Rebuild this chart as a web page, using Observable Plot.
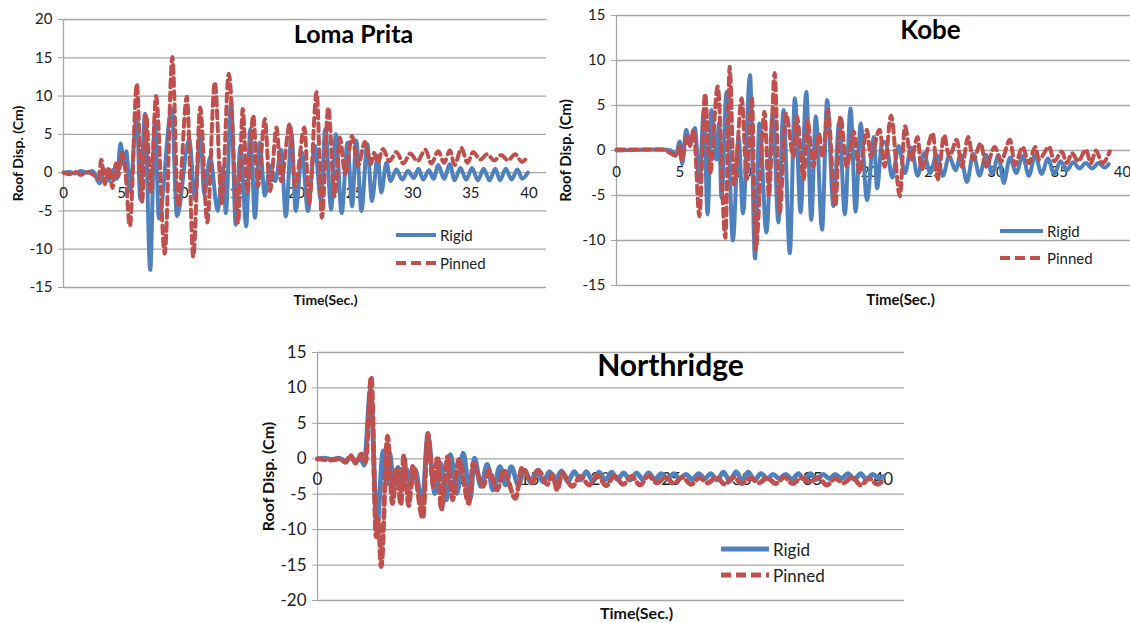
<!DOCTYPE html>
<html><head><meta charset="utf-8">
<script src="https://cdn.jsdelivr.net/npm/d3@7"></script>
<script src="https://cdn.jsdelivr.net/npm/@observablehq/plot@0.6"></script>
<style>
body{margin:0;background:#fff;font-family:Lato,sans-serif;}
#wrap{position:relative;width:1130px;height:623px;overflow:hidden;background:#fff;}
.panel{position:absolute;}
.leg{position:absolute;display:flex;align-items:center;color:#222;font-family:Lato,sans-serif;white-space:nowrap;}
.leg svg{display:block;}
</style></head><body><div id="wrap"></div>
<script>
const BLUE = "#4F81BD", RED = "#C0504D", GRID = "#a6a6a6";

// ---- Data (time in s, roof displacement in cm) ----
const seriesNames = ["Rigid", "Pinned"];
const xTicks = [0, 5, 10, 15, 20, 25, 30, 35, 40];
const lomaYTicks = [-15, -10, -5, 0, 5, 10, 15, 20];
const kobeYTicks = [-15, -10, -5, 0, 5, 10, 15];
const northYTicks = [-20, -15, -10, -5, 0, 5, 10, 15];

const lomaRigid = [[0,0],[0.5,0.1],[1,-0.1],[1.5,0.2],[2,0],[2.5,0.2],[3.1,-1.4],[3.5,0.4],[3.9,-1.0],[4.3,0.4],[4.6,-0.8],[4.9,3.8],[5.2,1.0],[5.4,2.8],[5.7,-2.5],[6.3,7.5],[6.6,-3.5],[7.0,7.7],[7.45,-12.7],[7.85,6.8],[8.2,-6.0],[9.3,8.3],[9.75,-5.7],[10.8,4.4],[11.3,-3.5],[11.75,5.3],[12.1,-2.8],[12.6,2.0],[13.25,-5.0],[13.7,0.7],[13.95,-5.3],[14.4,9.2],[14.8,-6.8],[15.2,3.5],[15.7,-7.0],[16.05,5.7],[16.45,-5.9],[16.85,3.9],[17.3,-3.0],[17.75,0.9],[18.2,-1.1],[18.7,3.0],[19.1,-5.7],[19.6,5.0],[19.95,-5.0],[20.5,2.6],[21.0,-5.0],[21.6,3.5],[22.1,-3.5],[22.5,5.7],[23.0,-4.8],[23.4,5.0],[23.9,-5.3],[24.4,3.9],[24.8,-4.4],[25.15,4.2],[25.6,-5.0],[26.1,3.7],[26.5,-3.7],[27.0,2.2],[27.3,-2.6],[27.75,1.3],[28.1,-1.1],[28.6,0.4],[29.1,-0.9],[29.6,0.2],[30.1,-0.7],[30.5,0.5],[30.9,-0.9],[31.4,0.3],[31.8,-0.8],[32.2,1.0],[32.7,-0.8],[33.2,1.1],[33.6,-1.0],[34.1,0.6],[34.6,-0.9],[35.1,0.6],[35.6,-1.0],[36.1,0.5],[36.6,-1.0],[37.1,0.5],[37.5,-1.0],[38.0,0.5],[38.5,-0.9],[39.0,0.4],[39.4,-0.8],[39.9,0]];
const lomaPinned = [[0,0],[0.5,-0.2],[1,0.1],[1.5,-0.3],[2,0.1],[2.5,-0.2],[3.0,-0.8],[3.25,1.7],[3.55,-1.5],[3.9,0.7],[4.2,-2.0],[4.5,1.2],[4.7,-0.5],[5.0,2.6],[5.3,0.5],[5.7,-7.0],[6.3,11.6],[6.75,-3.8],[7.1,7.6],[7.5,-2.5],[7.95,10.0],[8.7,-10.6],[9.35,15.1],[9.85,-4.4],[10.6,9.9],[11.15,-11.0],[11.75,8.5],[12.35,-6.5],[13.0,11.8],[13.6,-4.0],[14.2,12.9],[15.0,-6.6],[15.4,8.3],[15.8,-2.6],[16.3,7.5],[16.7,-1.8],[17.3,7.0],[17.75,-2.4],[18.3,5.9],[18.7,-1.1],[19.45,6.4],[19.9,-1.8],[20.7,5.9],[21.1,-4.0],[21.75,10.5],[22.2,-5.9],[22.75,8.5],[23.3,-3.1],[23.75,4.6],[24.2,-0.2],[24.8,4.8],[25.3,0.9],[25.9,4.0],[26.4,1.1],[26.7,2.6],[27.0,1.3],[27.45,3.1],[28.0,1.5],[28.6,2.7],[29.2,1.2],[29.8,2.5],[30.4,1.5],[31.1,3.0],[31.6,1.2],[32.2,2.8],[32.7,1.3],[33.2,2.9],[33.6,1.0],[34.2,3.2],[34.7,1.3],[35.2,2.7],[35.8,1.7],[36.4,2.4],[37.0,1.6],[37.6,2.3],[38.2,1.6],[38.8,2.4],[39.4,1.4],[39.8,2.0]];

const kobeRigid = [[0,0],[3.5,0.1],[4.3,0],[4.7,-0.5],[5.0,1.0],[5.2,-1.5],[5.5,2.3],[5.8,0.8],[6.2,2.5],[6.55,-3.5],[6.9,4.5],[7.2,-7.1],[7.5,4.5],[7.9,-1.0],[8.1,3.0],[8.3,-5.3],[8.7,6.5],[9.2,-10.0],[9.65,1.5],[10.0,-7.0],[10.55,8.4],[10.95,-12.0],[11.3,3.0],[11.85,-9.1],[12.35,4.1],[12.8,-8.0],[13.2,4.5],[13.7,-11.4],[14.1,5.8],[14.55,-6.9],[15.0,6.5],[15.4,-7.7],[15.75,3.8],[16.25,-8.8],[16.65,5.6],[17.15,-6.2],[17.6,3.2],[18.05,-7.1],[18.5,4.7],[18.9,-6.8],[19.3,3.0],[19.8,-5.5],[20.35,1.5],[20.6,-4.2],[21.0,1.0],[21.3,0.8],[21.8,-3.0],[22.3,0.5],[22.8,-2.5],[23.3,0.3],[23.8,-2.8],[24.3,-0.3],[24.8,-2.5],[25.3,-0.5],[25.8,-2.8],[26.3,-0.6],[26.8,-2.2],[27.2,-0.5],[27.7,-3.5],[28.2,-0.4],[28.7,-2.8],[29.2,-0.5],[29.7,-2.6],[30.2,-0.5],[30.6,-3.6],[31.1,-0.8],[31.6,-2.5],[32.1,-0.6],[32.6,-2.8],[33.1,-0.5],[33.6,-2.6],[34.1,-0.9],[34.6,-2.6],[35.1,-1.2],[35.6,-2.2],[36.1,-1.3],[36.6,-2.0],[37.1,-1.4],[37.6,-2.0],[38.1,-1.4],[38.6,-1.9],[38.9,-1.5]];
const kobePinned = [[0,0.1],[3.6,0.1],[4.8,-0.6],[5.0,0.5],[5.15,-1.1],[5.6,1.6],[5.8,0.5],[6.1,2.3],[6.55,-7.3],[7.0,6.3],[7.4,-2.5],[8.0,7.1],[8.6,-9.7],[8.95,9.3],[9.3,-3.8],[9.9,5.8],[10.3,-3.2],[10.7,6.0],[11.0,-11.0],[11.7,4.3],[12.05,-5.1],[12.5,8.6],[12.9,-6.9],[13.4,4.1],[14.0,-0.7],[14.25,3.8],[14.8,-3.2],[15.1,3.4],[15.55,-1.8],[16.0,1.9],[16.3,-0.7],[16.7,4.5],[17.3,-6.2],[17.7,3.8],[18.2,-1.8],[18.75,2.1],[19.2,-2.5],[19.8,2.3],[20.1,-0.7],[20.8,2.3],[21.2,-1.8],[21.7,3.9],[22.4,-5.1],[22.8,2.7],[23.3,-1.0],[23.8,1.5],[24.1,-2.1],[25.0,1.9],[25.4,-3.2],[25.9,1.7],[26.3,-0.7],[26.9,1.2],[27.3,-1.8],[27.8,1.5],[28.2,-1.0],[28.8,0.8],[29.2,-1.8],[29.9,0.4],[30.4,-1.2],[31.1,1.2],[31.5,-1.6],[32.1,0.4],[32.6,-1.4],[33.1,0.4],[33.4,-1.0],[34.2,0.4],[34.6,-1.2],[35.2,-0.1],[35.6,-1.4],[36.0,-0.3],[36.5,-1.2],[37.1,0.1],[37.5,-1.4],[37.9,0],[38.4,-1.4],[39.0,-0.1]];

const northRigid = [[0,0],[0.5,0.1],[1,-0.1],[1.5,0.1],[2.0,-0.3],[2.4,0.3],[2.7,-0.6],[3.0,0.2],[3.3,-0.9],[3.75,9.7],[4.2,-9.4],[4.65,1.1],[4.9,-3.5],[5.1,0.8],[5.4,-3.8],[5.7,-1.2],[6.0,-4.0],[6.3,-1.5],[6.6,-3.8],[6.9,-1.5],[7.4,-6.5],[7.8,3.2],[8.3,-4.9],[8.7,-0.6],[9.1,-5.8],[9.4,0.6],[9.85,-4.9],[10.3,0.8],[10.8,-5.6],[11.1,0.1],[11.55,-3.9],[12.0,-0.8],[12.4,-4.4],[12.9,-1.1],[13.3,-3.7],[13.7,-1.1],[14.2,-3.7],[14.65,-1.6],[15.1,-3.4],[15.5,-1.7],[15.95,-3.3],[16.4,-1.8],[16.8,-3.1],[17.25,-1.7],[17.7,-3.2],[18.15,-1.8],[18.6,-3.0],[19.0,-1.8],[19.45,-3.1],[19.9,-1.9],[20.35,-3.0],[20.8,-1.9],[21.2,-2.9],[21.65,-2.0],[22.1,-3.0],[22.55,-2.0],[23.0,-2.9],[23.4,-2.0],[23.85,-2.9],[24.3,-2.1],[24.75,-2.8],[25.2,-2.1],[25.6,-2.8],[26.05,-2.2],[26.5,-2.9],[26.95,-2.1],[27.4,-2.8],[27.8,-2.1],[28.25,-3.0],[28.7,-1.9],[29.15,-3.1],[29.6,-1.8],[30.0,-3.1],[30.45,-1.9],[30.9,-3.0],[31.35,-2.1],[31.8,-2.8],[32.2,-2.2],[32.65,-2.8],[33.1,-2.2],[33.55,-2.9],[34.0,-2.1],[34.4,-2.9],[34.85,-2.1],[35.3,-2.9],[35.75,-2.2],[36.2,-2.8],[36.6,-2.2],[37.05,-2.8],[37.5,-2.1],[37.95,-2.9],[38.4,-2.1],[38.8,-2.9],[39.25,-2.2],[39.7,-2.8],[40.0,-2.5]];
const northPinned = [[0,0],[0.5,-0.1],[1.0,-0.2],[1.5,0],[2.0,-0.5],[2.3,0.5],[2.7,-0.6],[3.1,0.7],[3.4,-0.5],[3.8,11.6],[4.15,-11.0],[4.3,-8.5],[4.5,-15.2],[4.95,3.2],[5.3,-6.3],[5.6,-1.5],[5.9,-6.5],[6.1,0.5],[6.45,-6.6],[6.75,-1.0],[7.45,-8.4],[7.8,3.6],[8.2,-3.9],[8.5,0.3],[8.75,-7.2],[9.2,0.3],[9.55,-5.8],[10.0,-0.1],[10.7,-6.3],[11.0,-0.6],[11.7,-3.9],[12.1,-1.6],[12.7,-4.4],[13.15,-1.6],[14.0,-5.6],[14.45,-1.3],[15.2,-3.4],[15.6,-1.6],[16.25,-3.6],[16.6,-2.2],[16.95,-4.4],[17.3,-2.0],[18.0,-3.9],[18.6,-2.5],[19.2,-3.7],[19.8,-2.3],[20.4,-3.8],[21.0,-2.4],[21.6,-3.6],[22.2,-2.5],[22.8,-3.7],[23.4,-2.4],[24.0,-3.4],[24.6,-2.6],[25.2,-3.5],[25.8,-2.6],[26.4,-3.6],[27.0,-2.7],[27.6,-3.4],[28.2,-2.6],[28.8,-3.6],[29.4,-2.6],[30.0,-3.5],[30.6,-2.7],[31.2,-3.4],[31.8,-2.7],[32.4,-3.5],[33.0,-2.6],[33.6,-3.5],[34.2,-2.7],[34.8,-3.3],[35.4,-2.6],[36.0,-3.7],[36.6,-2.8],[37.2,-3.4],[37.8,-2.6],[38.4,-3.7],[39.0,-2.8],[39.6,-3.6],[40.0,-3.0]];

const panels = [
  {title:"Loma Prita", rigid:lomaRigid, pinned:lomaPinned, yTicks:lomaYTicks,
   left:0, top:0, width:560, height:310, mL:63, mR:14, mT:19, mB:23, xMax:41.5,
   titleSize:25, titleDx:290, titleDy:15, tickSize:15, axTitleSize:14,
   yTitleDx:-45, xTitleDx:262, xTitleDy:13, xLabDy:21, lw:4,
   leg:{x:396, y1:235, y2:263, len:40, size:15}},
  {title:"Kobe", rigid:kobeRigid, pinned:kobePinned, yTicks:kobeYTicks,
   left:555, top:0, width:600, height:310, mL:61, mR:14, mT:15, mB:25, xMax:41.5,
   titleSize:26, titleDx:314, titleDy:15, tickSize:15, axTitleSize:15,
   yTitleDx:-50, xTitleDx:284, xTitleDy:15, xLabDy:22, lw:4,
   leg:{x:1000, y1:231, y2:258, len:43, size:15}},
  {title:"Northridge", rigid:northRigid, pinned:northPinned, yTicks:northYTicks,
   left:250, top:330, width:668, height:293, mL:67, mR:14, mT:22, mB:23, xMax:41.5,
   titleSize:30, titleDx:353, titleDy:14, tickSize:17, axTitleSize:16,
   yTitleDx:-49, xTitleDx:319, xTitleDy:13, xLabDy:21, lw:4.8,
   leg:{x:721, y1:549, y2:575, len:48, size:17}}
];

const wrap = document.getElementById("wrap");

for (const p of panels) {
  const yMin = d3.min(p.yTicks), yMax = d3.max(p.yTicks);
  const chart = Plot.plot({
    width: p.width, height: p.height,
    marginLeft: p.mL, marginRight: p.mR, marginTop: p.mT, marginBottom: p.mB,
    x: {domain: [0, p.xMax], axis: null},
    y: {domain: [yMin, yMax]},
    style: {fontFamily: "Lato, sans-serif", fontSize: p.tickSize + "px", color: "#222", background: "transparent", overflow: "visible"},
    marks: [
      Plot.gridY(p.yTicks, {stroke: GRID, strokeOpacity: 1, strokeWidth: 1.3}),
      Plot.ruleX([0], {stroke: GRID, strokeWidth: 1.3}),
      Plot.axisY(p.yTicks, {tickSize: 5, tickPadding: 6, stroke: GRID, fill: "#222", fontSize: p.tickSize, tickFormat: d => String(d)}),
      Plot.text(xTicks, {x: d => d, y: 0, text: d => String(d), dy: p.xLabDy, fontSize: p.tickSize, fill: "#222"}),
      Plot.line(p.rigid, {x: d => d[0], y: d => d[1], stroke: BLUE, strokeWidth: p.lw, curve: "monotone-x", strokeLinejoin: "round"}),
      Plot.line(p.pinned, {x: d => d[0], y: d => d[1], stroke: RED, strokeWidth: p.lw, curve: "monotone-x", strokeDasharray: "8,5"}),
      Plot.text([p.title], {text: d => d, frameAnchor: "top-left", dx: p.titleDx, dy: p.titleDy, textAnchor: "middle", lineAnchor: "middle", fontSize: p.titleSize, fontWeight: "bold", fill: "#000"}),
      Plot.text(["Roof Disp. (Cm)"], {text: d => d, frameAnchor: "left", dx: p.yTitleDx, rotate: -90, textAnchor: "middle", lineAnchor: "middle", fontSize: p.axTitleSize, fontWeight: "bold", fill: "#111"}),
      Plot.text(["Time(Sec.)"], {text: d => d, frameAnchor: "bottom-left", dx: p.xTitleDx, dy: p.xTitleDy, textAnchor: "middle", lineAnchor: "middle", fontSize: p.axTitleSize, fontWeight: "bold", fill: "#111"})
    ]
  });
  chart.classList.add("panel");
  chart.style.left = p.left + "px";
  chart.style.top = p.top + "px";
  wrap.appendChild(chart);

  // legend
  const items = [
    {name: seriesNames[0], color: BLUE, dash: null, y: p.leg.y1},
    {name: seriesNames[1], color: RED, dash: "10,5", y: p.leg.y2}
  ];
  for (const it of items) {
    const div = document.createElement("div");
    div.className = "leg";
    div.style.left = p.leg.x + "px";
    div.style.top = (it.y - 12) + "px";
    div.style.height = "24px";
    div.style.fontSize = p.leg.size + "px";
    const ns = "http://www.w3.org/2000/svg";
    const s = document.createElementNS(ns, "svg");
    s.setAttribute("width", p.leg.len + 4);
    s.setAttribute("height", 24);
    const l = document.createElementNS(ns, "line");
    l.setAttribute("x1", 0); l.setAttribute("x2", p.leg.len);
    l.setAttribute("y1", 12); l.setAttribute("y2", 12);
    l.setAttribute("stroke", it.color);
    l.setAttribute("stroke-width", p.lw);
    if (it.dash) l.setAttribute("stroke-dasharray", it.dash);
    s.appendChild(l);
    div.appendChild(s);
    const t = document.createElement("span");
    t.textContent = it.name;
    div.appendChild(t);
    wrap.appendChild(div);
  }
}
</script></body></html>
